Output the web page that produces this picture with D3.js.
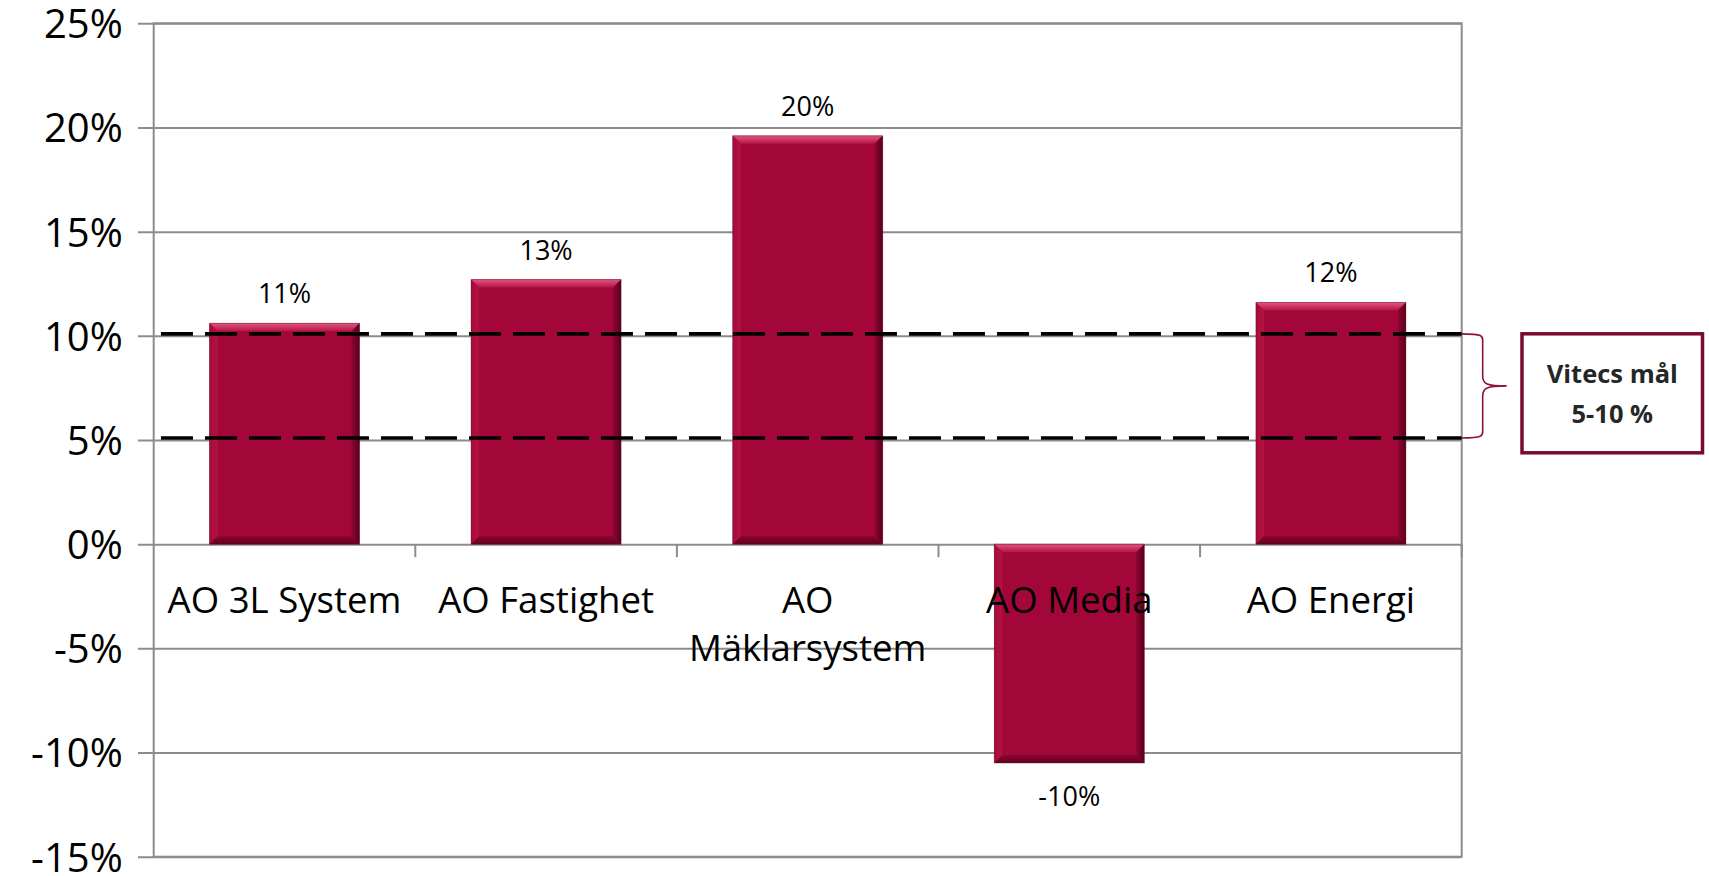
<!DOCTYPE html>
<html>
<head>
<meta charset="utf-8">
<script src="https://cdn.jsdelivr.net/npm/d3@7"></script>
<style>
  body { margin: 0; background: #fff; }
  svg { display: block; font-family: "Open Sans", "Noto Sans", sans-serif; }
</style>
</head>
<body>
<svg class="chart"></svg>
<script>
// data
const categories = ["AO 3L System", "AO Fastighet", "AO Mäklarsystem", "AO Media", "AO Energi"];
const values = [0.106, 0.127, 0.196, -0.105, 0.116];
const valueLabels = ["11%", "13%", "20%", "-10%", "12%"];
const yTicks = [-0.15, -0.1, -0.05, 0, 0.05, 0.1, 0.15, 0.2, 0.25];
const goalLines = [0.1, 0.05];
const goalText = ["Vitecs mål", "5-10 %"];

const width = 1709,
  height = 876;

const plotLeft = 153.7,
  plotRight = 1461.7,
  plotTop = 23.3,
  plotBottom = 856.7;

const svg = d3
  .select(".chart")
  .attr("width", width)
  .attr("height", height);

const x = d3
  .scaleBand()
  .domain(categories)
  .range([plotLeft, plotRight])
  .paddingInner(0.427)
  .paddingOuter(0.2135);

const y = d3
  .scaleLinear()
  .domain([-0.15, 0.25])
  .range([plotBottom, plotTop]);

// plain hyphen for negatives, like the original
const pct = d3
  .formatLocale({ decimal: ".", thousands: " ", grouping: [3], currency: ["", ""], minus: "-" })
  .format(".0%");

// gradients for the bevelled bars
const defs = svg.append("defs");
function grad(id, x2, y2, c1, c2) {
  const g = defs
    .append("linearGradient")
    .attr("id", id)
    .attr("x1", 0)
    .attr("y1", 0)
    .attr("x2", x2)
    .attr("y2", y2);
  g.append("stop").attr("offset", 0).attr("stop-color", c1);
  g.append("stop").attr("offset", 1).attr("stop-color", c2);
}
grad("bevTop", 0, 1, "#e2557f", "#b41446");
grad("bevRight", 1, 0, "#8e0532", "#5a001b");
grad("bevBottom", 0, 1, "#8c0430", "#65001f");
grad("bevLeft", 1, 0, "#a80a3d", "#b2123f");

// grid lines + left axis
const yAxis = d3
  .axisLeft(y)
  .tickValues(yTicks)
  .tickSize(-(plotRight - plotLeft))
  .tickPadding(31)
  .tickFormat(pct);

const gy = svg
  .append("g")
  .attr("transform", "translate(" + plotLeft + ",0)")
  .call(yAxis);

gy.select(".domain").remove();
gy.selectAll(".tick line")
  .attr("x1", -15.7)
  .attr("stroke", "#8c8c8c")
  .attr("stroke-width", 2);
gy.selectAll(".tick text")
  .attr("font-size", 40)
  .attr("font-family", "Open Sans")
  .attr("fill", "#000")
  .attr("dy", "0.36em");

// frame
svg
  .append("rect")
  .attr("x", plotLeft)
  .attr("y", plotTop)
  .attr("width", plotRight - plotLeft)
  .attr("height", plotBottom - plotTop)
  .attr("fill", "none")
  .attr("stroke", "#8c8c8c")
  .attr("stroke-width", 2);

// category tick marks below zero line
const bounds = categories.map(function(c) {
  return x(c) - (x.step() - x.bandwidth()) / 2;
});
bounds.push(plotRight);
svg
  .append("g")
  .selectAll("line")
  .data(bounds.slice(1))
  .enter()
  .append("line")
  .attr("x1", function(d) { return d; })
  .attr("x2", function(d) { return d; })
  .attr("y1", y(0))
  .attr("y2", y(0) + 13)
  .attr("stroke", "#8c8c8c")
  .attr("stroke-width", 2);

// bars
const b = 8;
const bar = svg
  .append("g")
  .selectAll("g")
  .data(values)
  .enter()
  .append("g");

function box(d, i) {
  const bx = x(categories[i]),
    bw = x.bandwidth(),
    by = y(Math.max(0, d)),
    bh = Math.abs(y(d) - y(0));
  return { x: bx, y: by, w: bw, h: bh };
}
function pts(a) {
  return a.map(function(p) { return p.join(","); }).join(" ");
}

bar
  .append("rect")
  .attr("x", function(d, i) { return box(d, i).x; })
  .attr("y", function(d, i) { return box(d, i).y; })
  .attr("width", x.bandwidth())
  .attr("height", function(d, i) { return box(d, i).h; })
  .attr("fill", "#a30639");

bar
  .append("polygon")
  .attr("fill", "url(#bevTop)")
  .attr("points", function(d, i) {
    const r = box(d, i);
    return pts([[r.x, r.y], [r.x + r.w, r.y], [r.x + r.w - b, r.y + b], [r.x + b, r.y + b]]);
  });
bar
  .append("polygon")
  .attr("fill", "url(#bevLeft)")
  .attr("points", function(d, i) {
    const r = box(d, i);
    return pts([[r.x, r.y], [r.x + b, r.y + b], [r.x + b, r.y + r.h - b], [r.x, r.y + r.h]]);
  });
bar
  .append("polygon")
  .attr("fill", "url(#bevRight)")
  .attr("points", function(d, i) {
    const r = box(d, i);
    return pts([[r.x + r.w, r.y], [r.x + r.w, r.y + r.h], [r.x + r.w - b, r.y + r.h - b], [r.x + r.w - b, r.y + b]]);
  });
bar
  .append("polygon")
  .attr("fill", "url(#bevBottom)")
  .attr("points", function(d, i) {
    const r = box(d, i);
    return pts([[r.x, r.y + r.h], [r.x + r.w, r.y + r.h], [r.x + r.w - b, r.y + r.h - b], [r.x + b, r.y + r.h - b]]);
  });
bar
  .append("rect")
  .attr("x", function(d, i) { return box(d, i).x; })
  .attr("y", function(d, i) { return box(d, i).y; })
  .attr("width", x.bandwidth())
  .attr("height", function(d, i) { return box(d, i).h; })
  .attr("fill", "none")
  .attr("stroke", "rgba(90,20,40,0.45)")
  .attr("stroke-width", 1);

// value labels
bar
  .append("text")
  .attr("x", function(d, i) { return x(categories[i]) + x.bandwidth() / 2; })
  .attr("y", function(d) {
    return d >= 0 ? y(d) - 20 : y(d) + 43;
  })
  .attr("text-anchor", "middle")
  .attr("font-size", 27)
  .attr("fill", "#000")
  .text(function(d, i) { return valueLabels[i]; });

// category labels (wrapped to the band step)
const cat = svg
  .append("g")
  .selectAll("text")
  .data(categories)
  .enter()
  .append("text")
  .attr("x", function(d) { return x(d) + x.bandwidth() / 2; })
  .attr("y", y(0) + 68.4)
  .attr("text-anchor", "middle")
  .attr("font-size", 36.6)
  .attr("fill", "#000")
  .text(function(d) { return d; });

cat.each(function(d) {
  const t = d3.select(this);
  if (this.getComputedTextLength() <= x.step()) return;
  const words = d.split(" ");
  t.text(null);
  let line = [];
  let ts = t.append("tspan").attr("x", t.attr("x"));
  words.forEach(function(w) {
    line.push(w);
    ts.text(line.join(" "));
    if (ts.node().getComputedTextLength() > x.step() && line.length > 1) {
      line.pop();
      ts.text(line.join(" "));
      line = [w];
      ts = t
        .append("tspan")
        .attr("x", t.attr("x"))
        .attr("dy", 48.5)
        .text(w);
    }
  });
});

// goal range dashed lines
svg
  .append("g")
  .attr("transform", "translate(0,-2)")
  .selectAll("line")
  .data(goalLines)
  .enter()
  .append("line")
  .attr("x1", plotLeft)
  .attr("x2", plotRight)
  .attr("y1", function(d) { return y(d); })
  .attr("y2", function(d) { return y(d); })
  .attr("stroke", "#000")
  .attr("stroke-width", 3.6)
  .attr("stroke-dasharray", "32,12")
  .attr("stroke-dashoffset", 36.7);

// brace
const yHi = y(goalLines[0]) - 2,
  yLo = y(goalLines[1]) - 2,
  yMid = (yHi + yLo) / 2;
const bx0 = plotRight,
  bx1 = plotRight + 21,
  bx2 = plotRight + 45;
svg
  .append("path")
  .attr(
    "d",
    "M" + bx0 + "," + yHi +
      " C" + (bx1 + 2) + "," + yHi + " " + bx1 + "," + (yHi + 2) + " " + bx1 + "," + (yHi + 10) +
      " L" + bx1 + "," + (yMid - 10) +
      " C" + bx1 + "," + (yMid - 2) + " " + (bx1 + 4) + "," + yMid + " " + bx2 + "," + yMid +
      " C" + (bx1 + 4) + "," + yMid + " " + bx1 + "," + (yMid + 2) + " " + bx1 + "," + (yMid + 10) +
      " L" + bx1 + "," + (yLo - 10) +
      " C" + bx1 + "," + (yLo - 2) + " " + (bx1 + 2) + "," + yLo + " " + bx0 + "," + yLo
  )
  .attr("fill", "none")
  .attr("stroke", "#8b1538")
  .attr("stroke-width", 1.6);

// goal box
const boxG = svg.append("g");
boxG
  .append("rect")
  .attr("x", 1522)
  .attr("y", 333.8)
  .attr("width", 180.5)
  .attr("height", 119)
  .attr("fill", "#fff")
  .attr("stroke", "#7a0b2e")
  .attr("stroke-width", 3.5);

boxG
  .selectAll("text")
  .data(goalText)
  .enter()
  .append("text")
  .attr("x", 1612.3)
  .attr("y", function(d, i) { return 383.3 + i * 40; })
  .attr("text-anchor", "middle")
  .attr("font-size", 25.5)
  .attr("font-weight", "bold")
  .attr("fill", "#262626")
  .text(function(d) { return d; });
</script>
</body>
</html>
